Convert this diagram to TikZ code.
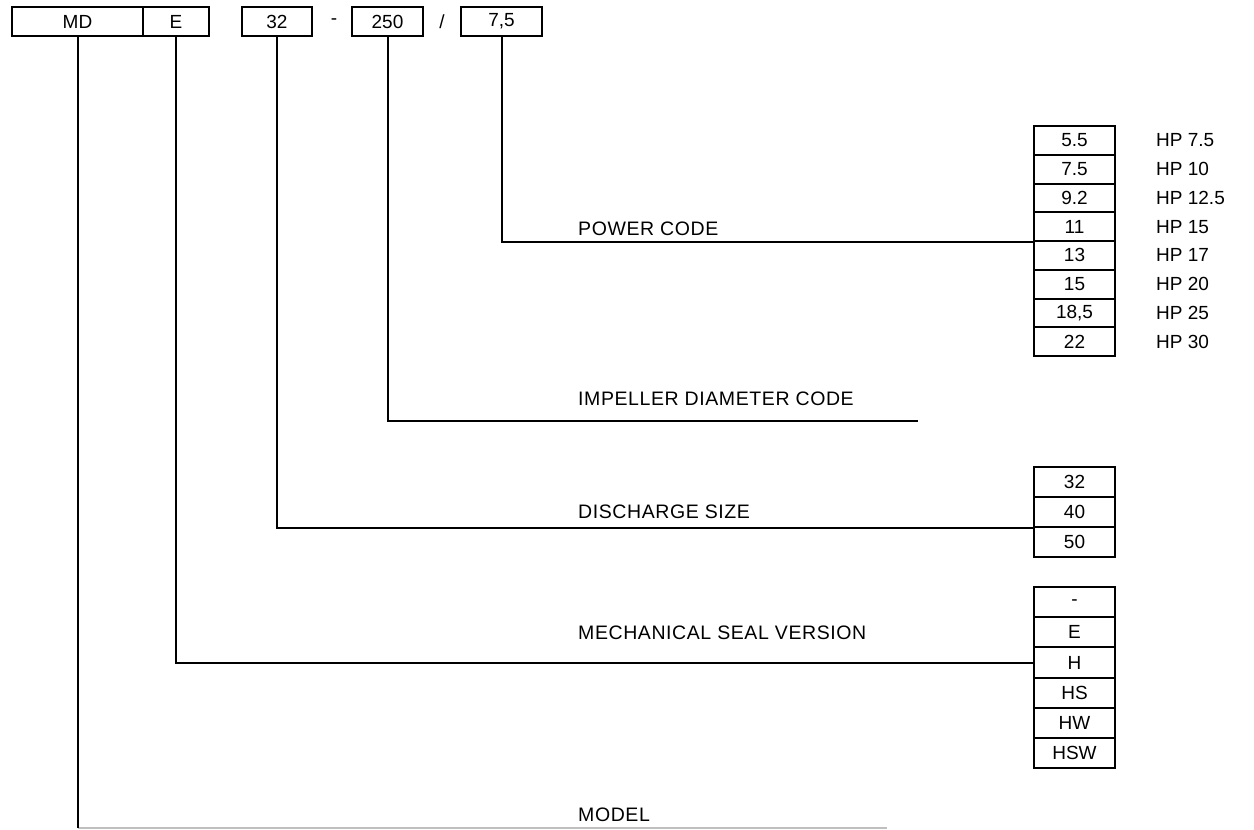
\documentclass[tikz,border=0pt]{standalone}
\usepackage{fontspec}
\setmainfont{Liberation Sans}
\newfontfamily\lblfont[LetterSpace=3]{Liberation Sans}
\begin{document}
\begin{tikzpicture}[x=1pt,y=-1pt,
  topbox/.style={draw, line width=2pt, minimum height=29pt, inner sep=0pt, font=\fontsize{19}{21}\selectfont},
  sep/.style={inner sep=0pt, font=\fontsize{19}{21}\selectfont},
  pcell/.style={draw, line width=2pt, minimum width=81pt, minimum height=28.75pt, inner sep=0pt, font=\fontsize{19}{21}\selectfont},
  dcell/.style={draw, line width=2pt, minimum width=81pt, minimum height=30pt, inner sep=0pt, font=\fontsize{19}{21}\selectfont},
  mcell/.style={draw, line width=2pt, minimum width=81pt, minimum height=30.2pt, inner sep=0pt, font=\fontsize{19}{21}\selectfont},
  hp/.style={anchor=west, inner sep=0pt, font=\fontsize{19}{21}\selectfont},
  lbl/.style={anchor=west, inner sep=0pt, font=\lblfont\fontsize{19.5}{22}\selectfont},
  conn/.style={line width=2pt},
  lightconn/.style={line width=2pt, draw=black!25}
]
\useasboundingbox (0,0) rectangle (1254,830);

% top code boxes
\node[topbox, minimum width=131pt] (md) at (77.5,21.5) {MD};
\node[topbox, minimum width=66pt] (e) at (176,21.5) {E};
\node[topbox, minimum width=70pt] (c32) at (277,21.5) {32};
\node[sep] (dash) at (334,21.5) {-};
\node[topbox, minimum width=71pt] (c250) at (387.5,21.5) {250};
\node[sep] (slash) at (442,21.5) {/};
\node[topbox, minimum width=81pt] (c75) at (501.5,21.5) {7,5};

% power code table
\foreach \v/\h [count=\i] in {5.5/HP 7.5, 7.5/HP 10, 9.2/HP 12.5, 11/HP 15, 13/HP 17, 15/HP 20, {18,5}/HP 25, 22/HP 30}{
  \node[pcell] (pw\i) at (1074.5,{126+28.75*(\i-0.5)}) {\v};
  \node[hp] (hp\i) at (1156,{126+28.75*(\i-0.5)}) {\h};
}

% discharge size table
\foreach \v [count=\i] in {32,40,50}{
  \node[dcell] (ds\i) at (1074.5,{467+30*(\i-0.5)}) {\v};
}

% mechanical seal table
\foreach \v [count=\i] in {-,E,H,HS,HW,HSW}{
  \node[mcell] (ms\i) at (1074.5,{587+30.2*(\i-0.5)}) {\v};
}

% free ends
\coordinate (impend) at (918,421);
\coordinate (modelend) at (887,828);

% connectors
\draw[conn] (c75.south) |- (pw4.south west);
\draw[conn] (c250.south) |- (impend);
\draw[conn] (c32.south) |- (ds2.south west);
\draw[conn] (e.south) |- (ms3.west);
\draw[lightconn] (md.south |- modelend) -- (modelend);
\draw[conn] (md.south) -- (md.south |- modelend);

% labels
\node[lbl] (lpower) at (578,229) {POWER CODE};
\node[lbl] (limp) at (578,399) {IMPELLER DIAMETER CODE};
\node[lbl] (ldis) at (578,512) {DISCHARGE SIZE};
\node[lbl] (lmech) at (578,633) {MECHANICAL SEAL VERSION};
\node[lbl] (lmodel) at (578,815) {MODEL};
\end{tikzpicture}
\end{document}
